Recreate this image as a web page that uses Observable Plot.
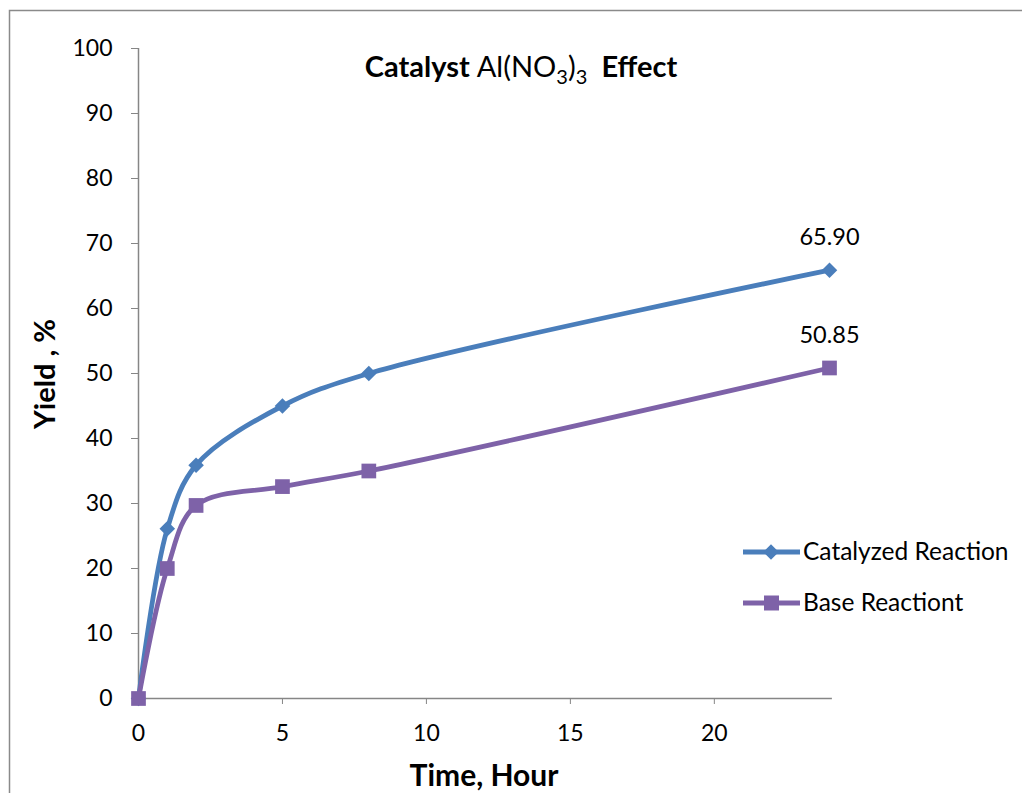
<!DOCTYPE html>
<html>
<head>
<meta charset="utf-8">
<script src="https://cdn.jsdelivr.net/npm/d3@7"></script>
<script src="https://cdn.jsdelivr.net/npm/@observablehq/plot@0.6"></script>
<style>
  html, body { margin: 0; padding: 0; background: #fff; overflow: hidden; }
  #wrap { position: relative; width: 1022px; height: 793px; overflow: hidden; }
</style>
</head>
<body>
<div id="wrap"></div>
<script>
const hours = [0, 1, 2, 5, 8, 24];
const catalyzed = [0, 26.1, 35.9, 45.0, 50.0, 65.90];
const base = [0, 20.0, 29.7, 32.6, 35.0, 50.85];
const seriesNames = ["Catalyzed Reaction", "Base Reactiont"];
const seriesColors = ["#4a7ebb", "#7e62a8"];
const xTicks = [0, 5, 10, 15, 20];
const yTicks = [0, 10, 20, 30, 40, 50, 60, 70, 80, 90, 100];
const endLabels = ["65.90", "50.85"];

const catData = hours.map((h, i) => ({x: h, y: catalyzed[i]}));
const baseData = hours.map((h, i) => ({x: h, y: base[i]}));
const last = hours.length - 1;
const labelData = [
  {x: hours[last], y: catalyzed[last], t: endLabels[0]},
  {x: hours[last], y: base[last], t: endLabels[1]}
];

const font = "Lato, 'Open Sans', sans-serif";
const axisColor = "#868686";

const chart = Plot.plot({
  width: 1022,
  height: 793,
  marginLeft: 138,
  marginRight: 193,
  marginTop: 48,
  marginBottom: 95,
  style: {fontFamily: font, fontSize: "23px", color: "#000", background: "transparent"},
  x: {domain: [0, 24], ticks: xTicks, label: null},
  y: {domain: [0, 100], ticks: yTicks, label: null},
  marks: [
    Plot.ruleY([0], {stroke: axisColor, strokeWidth: 1.5, x1: 0, x2: 24.1}),
    Plot.ruleX([0], {stroke: axisColor, strokeWidth: 1.5}),
    Plot.axisX({ticks: xTicks, tickSize: 6, tickPadding: 20, stroke: axisColor, fill: "#000", fontSize: 23, label: null}),
    Plot.axisY({ticks: yTicks, tickSize: 7, tickPadding: 19, stroke: axisColor, fill: "#000", fontSize: 23, label: null}),
    Plot.line(catData, {x: "x", y: "y", stroke: seriesColors[0], strokeWidth: 4.8, curve: "catmull-rom"}),
    Plot.dot(catData, {x: "x", y: "y", symbol: "diamond2", r: 7, fill: seriesColors[0], stroke: null}),
    Plot.line(baseData, {x: "x", y: "y", stroke: seriesColors[1], strokeWidth: 4.8, curve: "catmull-rom"}),
    Plot.dot(baseData, {x: "x", y: "y", symbol: "square", r: 8.3, fill: seriesColors[1], stroke: null}),
    Plot.text(labelData, {x: "x", y: "y", text: "t", dy: -33, fontSize: 23.5, fill: "#000"})
  ]
});

document.getElementById("wrap").appendChild(chart);
const svg = d3.select(chart);
svg.style("position", "absolute").style("left", "0px").style("top", "0px");
svg.selectAll('g[aria-label$="tick label"]').attr("font-size", 23);

// Frame
svg.append("path").attr("d", "M9.5,793V10.5H1022")
  .attr("fill", "none").attr("stroke", "#8a8a8a").attr("stroke-width", 1.5);

// Title
const title = svg.append("text")
  .attr("x", 521).attr("y", 77)
  .attr("text-anchor", "middle")
  .style("font-family", font).style("font-size", "29px").attr("fill", "#000");
title.append("tspan").attr("font-weight", "bold").text("Catalyst ");
title.append("tspan").text("Al(NO");
title.append("tspan").attr("dy", 7).style("font-size", "20px").text("3");
title.append("tspan").attr("dy", -7).text(")");
title.append("tspan").attr("dy", 7).style("font-size", "20px").text("3");
title.append("tspan").attr("dy", -7).attr("font-weight", "bold").text("\u00a0\u00a0Effect");

// Axis titles
svg.append("text")
  .attr("transform", "translate(55,374) rotate(-90)")
  .attr("text-anchor", "middle")
  .style("font-family", font).style("font-size", "29px").attr("font-weight", "bold")
  .text("Yield , %");
svg.append("text")
  .attr("x", 484).attr("y", 786)
  .attr("text-anchor", "middle")
  .style("font-family", font).style("font-size", "30px").attr("font-weight", "bold")
  .text("Time, Hour");

// Legend
const legend = svg.append("g").style("font-family", font).style("font-size", "24.5px").attr("text-anchor", "start");
const ly = [552, 603];
seriesNames.forEach((name, i) => {
  const g = legend.append("g");
  g.append("line").attr("x1", 743).attr("x2", 800).attr("y1", ly[i]).attr("y2", ly[i])
    .attr("stroke", seriesColors[i]).attr("stroke-width", 4.8);
  if (i === 0) {
    g.append("path").attr("d", d3.symbol(d3.symbolDiamond2, Math.PI * 7 * 7)())
      .attr("transform", `translate(771,${ly[i]})`).attr("fill", seriesColors[i]);
  } else {
    g.append("rect").attr("x", 764).attr("y", ly[i] - 7.5).attr("width", 15).attr("height", 15)
      .attr("fill", seriesColors[i]);
  }
  g.append("text").attr("x", 803).attr("y", ly[i] + 8).attr("text-anchor", "start").attr("fill", "#000").text(name);
});
</script>
</body>
</html>
